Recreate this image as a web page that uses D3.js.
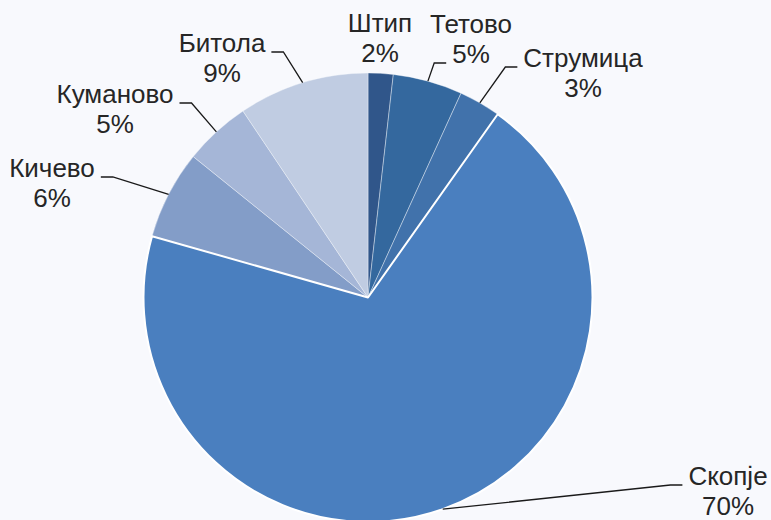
<!DOCTYPE html>
<html>
<head>
<meta charset="utf-8">
<script src="https://cdn.jsdelivr.net/npm/d3@7"></script>
<style>
    html, body { margin: 0; padding: 0; background: #f8f9fd; }
    svg { display: block; }
    text { font-family: "Liberation Sans", Arial, sans-serif; fill: #262626; }
</style>
</head>
<body>
<script>
// share of each city, clockwise from 12 o'clock
const cities = ["Штип", "Тетово", "Струмица", "Скопје", "Кичево", "Куманово", "Битола"]
const shares = [1.8, 5.0, 3.0, 69.6, 6.4, 4.8, 9.4]
const colors = ["#30568a", "#34689e", "#4172ab", "#4a7fbf", "#839dc8", "#a5b6d7", "#c0cce2"]

// label anchor (centre x, first baseline y) relative to the pie centre - layout only
const labelAt = [[12, -265.5], [103, -264.5], [215, -230.5], [360, 187.5], [-316, -120.5], [-253, -194.5], [-146, -245.5]]
// leader line: 0 = none, 1 = next to the name, 2 = next to the percent
const leaderRow = [0, 2, 1, 1, 1, 1, 1]

const width = 771,
    height = 520
const cx = 368,
    cy = 297.5,
    radius = 224.5

const svg = d3.select("body").append("svg")
    .attr("width", width)
    .attr("height", height)

const g = svg.append("g").attr("transform", `translate(${cx},${cy})`)

const rows = cities.map((c, i) => ({ city: c, value: shares[i], i: i }))

const pie = d3.pie()
    .value((d) => d.value)
    .sort(null)

const arc = d3.arc()
    .innerRadius(0)
    .outerRadius(radius)

const slices = pie(rows)

g.selectAll("path.slice")
    .data(slices)
    .join("path")
    .attr("class", "slice")
    .attr("d", arc)
    .attr("fill", (d) => colors[d.data.i])
    .attr("stroke", (d) => d.data.city == "Скопје" ? "#ffffff" : "#f8f9fd")
    .attr("stroke-width", (d) => d.data.city == "Скопје" ? 2 : 0.4)
    .attr("stroke-linejoin", "round")

// bring Скопје to front so its white border shows
g.selectAll("path.slice").filter((d) => d.data.city == "Скопје").raise()

const fontSize = 26,
    lineGap = 30

const labels = g.selectAll("text.lbl")
    .data(slices)
    .join("text")
    .attr("class", "lbl")
    .attr("text-anchor", "middle")
    .attr("font-size", fontSize)
    .attr("transform", (d) => `translate(${labelAt[d.data.i][0]},${labelAt[d.data.i][1]})`)

labels.append("tspan")
    .attr("class", "name")
    .attr("x", 0)
    .attr("y", 0)
    .text((d) => d.data.city)

labels.append("tspan")
    .attr("class", "pct")
    .attr("x", 0)
    .attr("y", lineGap)
    .text((d) => `${Math.round(d.data.value)}%`)

// leader lines: from the rim at the middle of the slice to a short shelf beside the label
labels.each(function (d) {
    const i = d.data.i
    if (!leaderRow[i]) return
    const span = d3.select(this).select(leaderRow[i] == 1 ? "tspan.name" : "tspan.pct").node()
    const half = span.getComputedTextLength() / 2
    const mid = (d.startAngle + d.endAngle) / 2
    const p0 = [radius * Math.sin(mid), -radius * Math.cos(mid)]
    const [lx, ly] = labelAt[i]
    const right = lx > 0
    const shelfY = ly + (leaderRow[i] == 1 ? 0 : lineGap)
    const endX = right ? lx - half - 6 : lx + half + 6
    const kneeX = right ? endX - 12 : endX + 12
    g.append("polyline")
        .attr("points", [p0, [kneeX, shelfY], [endX, shelfY]].map((p) => p.join(",")).join(" "))
        .attr("fill", "none")
        .attr("stroke", "#1a1a1a")
        .attr("stroke-width", 1.3)
})
</script>
</body>
</html>
